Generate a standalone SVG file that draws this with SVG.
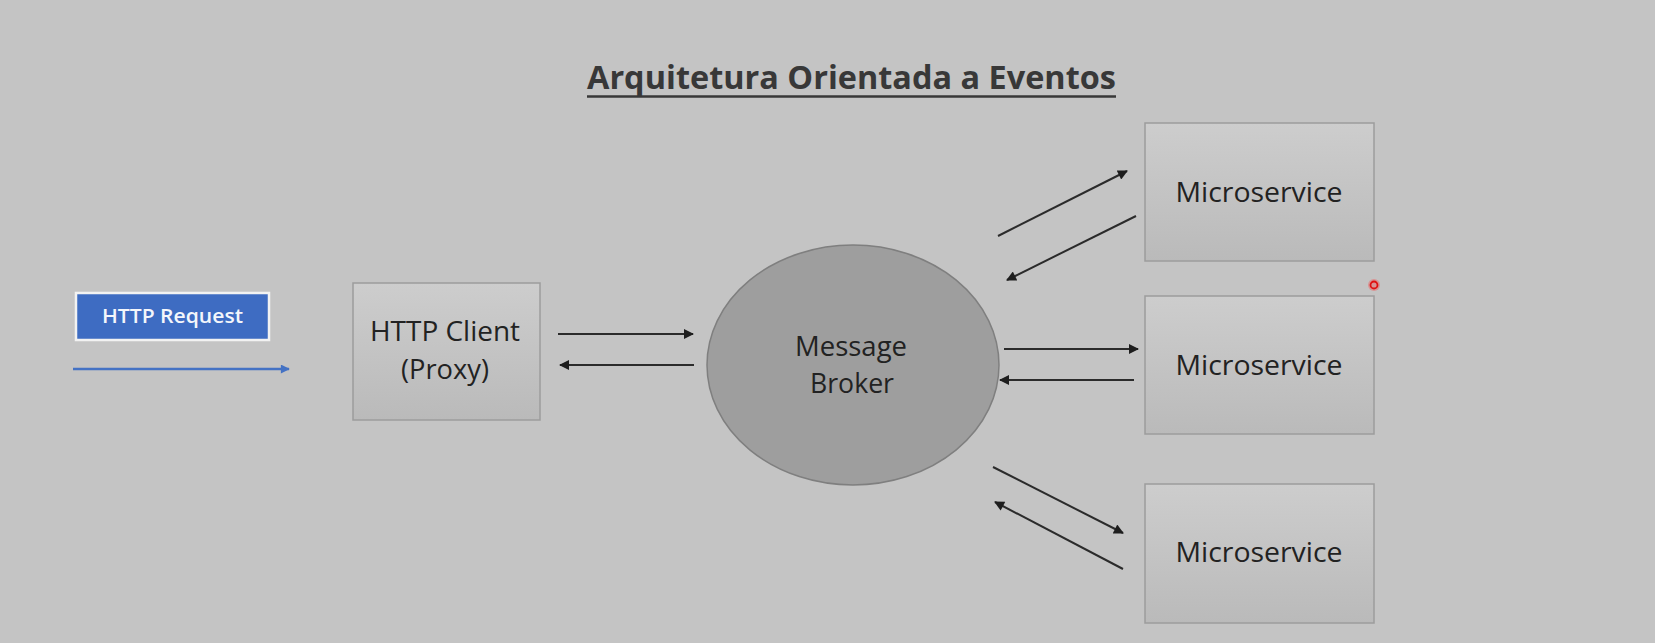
<svg xmlns="http://www.w3.org/2000/svg" width="1655" height="643" viewBox="0 0 1655 643">
<style>
  .lbl { font-family: "Open Sans", "Noto Sans", "Liberation Sans", sans-serif; fill: #222222; text-anchor: middle; }
  .ms { font-size: 28px; }
  .box { fill: url(#boxGrad); stroke: #9c9c9c; stroke-width: 1.5; }
  .conn { stroke: #2b2b2b; stroke-width: 2; fill: none; marker-end: url(#ah); }
</style>
<defs>
  <linearGradient id="boxGrad" x1="0" y1="0" x2="0" y2="1">
    <stop offset="0" stop-color="#cdcdcd"/>
    <stop offset="1" stop-color="#bababa"/>
  </linearGradient>
  <marker id="ah" viewBox="0 0 10 10" refX="9" refY="5" markerWidth="12" markerHeight="10" markerUnits="userSpaceOnUse" orient="auto">
    <path d="M0,0 L10,5 L0,10 z" fill="#1e1e1e"/>
  </marker>
  <marker id="ahb" viewBox="0 0 10 10" refX="9" refY="5" markerWidth="10" markerHeight="9" markerUnits="userSpaceOnUse" orient="auto">
    <path d="M0,0 L10,5 L0,10 z" fill="#4472c4"/>
  </marker>
</defs>
<rect width="1655" height="643" fill="#c4c4c4"/>

<g id="title">
  <text x="851.5" y="89" font-family="'Open Sans', 'Noto Sans', 'Liberation Sans', sans-serif" font-weight="bold" font-size="32" fill="#383838" text-anchor="middle" textLength="529" lengthAdjust="spacingAndGlyphs">Arquitetura Orientada a Eventos</text>
  <line x1="587" y1="96.5" x2="1116" y2="96.5" stroke="#383838" stroke-width="2.5"/>
</g>

<g id="http-request">
  <rect x="76" y="293" width="193" height="47" fill="#3e6cc2" stroke="#f2f2f2" stroke-width="2.5"/>
  <text x="172.5" y="323" font-family="'Open Sans', 'Noto Sans', 'Liberation Sans', sans-serif" font-weight="600" font-size="20" fill="#f4f6fb" text-anchor="middle" textLength="141" lengthAdjust="spacingAndGlyphs">HTTP Request</text>
</g>

<g id="http-client">
  <rect class="box" x="353" y="283" width="187" height="137"/>
  <text class="lbl" x="445" y="341" font-size="27" textLength="150" lengthAdjust="spacingAndGlyphs">HTTP Client</text>
  <text class="lbl" x="445" y="379" font-size="27" textLength="88" lengthAdjust="spacingAndGlyphs">(Proxy)</text>
</g>

<g id="message-broker">
  <ellipse cx="853" cy="365" rx="146" ry="120" fill="#9e9e9e" stroke="#7f7f7f" stroke-width="1.5"/>
  <text class="lbl" x="851" y="356" font-size="28" textLength="112" lengthAdjust="spacingAndGlyphs">Message</text>
  <text class="lbl" x="852" y="393" font-size="28" textLength="84" lengthAdjust="spacingAndGlyphs">Broker</text>
</g>

<g id="microservice-1">
  <rect class="box" x="1145" y="123" width="229" height="138"/>
  <text class="lbl ms" x="1259" y="202" textLength="167" lengthAdjust="spacingAndGlyphs">Microservice</text>
</g>

<g id="microservice-2">
  <rect class="box" x="1145" y="296" width="229" height="138"/>
  <text class="lbl ms" x="1259" y="375" textLength="167" lengthAdjust="spacingAndGlyphs">Microservice</text>
</g>

<g id="microservice-3">
  <rect class="box" x="1145" y="484" width="229" height="139"/>
  <text class="lbl ms" x="1259" y="562" textLength="167" lengthAdjust="spacingAndGlyphs">Microservice</text>
</g>

<g id="connectors">
  <line x1="73" y1="369" x2="289" y2="369" stroke="#4472c4" stroke-width="2.5" marker-end="url(#ahb)"/>
  <line class="conn" x1="558" y1="334" x2="693" y2="334"/>
  <line class="conn" x1="694" y1="365" x2="560" y2="365"/>
  <line class="conn" x1="998" y1="236" x2="1127" y2="171"/>
  <line class="conn" x1="1136" y1="216" x2="1007" y2="280"/>
  <line class="conn" x1="1004" y1="349" x2="1138" y2="349"/>
  <line class="conn" x1="1134" y1="380" x2="1000" y2="380"/>
  <line class="conn" x1="993" y1="467" x2="1123" y2="533"/>
  <line class="conn" x1="1123" y1="569" x2="995" y2="502"/>
</g>

<g id="pointer">
  <circle cx="1374" cy="285" r="6" fill="#ff3b3b" opacity="0.35"/>
  <circle cx="1374" cy="285" r="3.5" fill="none" stroke="#e01010" stroke-width="1.8"/>
</g>
</svg>
